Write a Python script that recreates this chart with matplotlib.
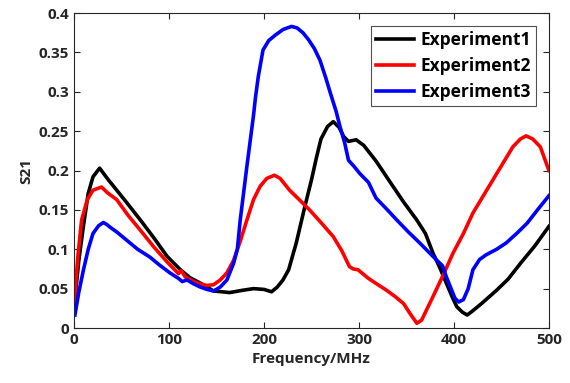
import matplotlib
matplotlib.use("Agg")
import matplotlib.pyplot as plt

plt.rcParams['font.family'] = ['Open Sans', 'DejaVu Sans']
plt.rcParams['font.weight'] = 'bold'

# Experiment1 (black)
x1 = [0, 5, 10, 15, 20, 27, 35, 45, 55, 70, 85, 98, 112, 122, 133, 147, 164, 178, 189,
      200, 208, 214, 220, 226, 234, 243, 250, 255, 260, 267, 273, 279, 284, 289, 297,
      305, 318, 333, 347, 361, 370, 378, 385, 392, 398, 403, 409, 414, 420, 430, 445,
      457, 470, 485, 500]
y1 = [0.025, 0.085, 0.13, 0.171, 0.192, 0.203, 0.19, 0.175, 0.16, 0.137, 0.113, 0.091,
      0.074, 0.064, 0.057, 0.047, 0.045, 0.048, 0.050, 0.049, 0.046, 0.052, 0.061, 0.074,
      0.108, 0.154, 0.188, 0.215, 0.24, 0.256, 0.262, 0.255, 0.243, 0.237, 0.239, 0.232,
      0.212, 0.185, 0.16, 0.137, 0.12, 0.095, 0.077, 0.057, 0.04, 0.027, 0.02, 0.0165,
      0.022, 0.032, 0.048, 0.062, 0.082, 0.104, 0.129]

# Experiment2 (red)
x2 = [0, 4, 8, 14, 20, 29, 35, 45, 57, 70, 84, 98, 110, 113, 117, 126, 133, 140, 147,
      154, 161, 168, 175, 182, 189, 196, 203, 211, 217, 227, 238, 248, 260, 273, 282,
      290, 294, 299, 310, 320, 329, 338, 347, 354, 361, 366, 372, 378, 389, 399, 410,
      420, 431, 441, 452, 462, 470, 476, 483, 491, 500]
y2 = [0.027, 0.09, 0.137, 0.163, 0.175, 0.179, 0.172, 0.163, 0.143, 0.124, 0.103, 0.084,
      0.069, 0.073, 0.065, 0.059, 0.056, 0.054, 0.055, 0.061, 0.07, 0.086, 0.11, 0.137,
      0.163, 0.18, 0.19, 0.194, 0.19, 0.175, 0.162, 0.15, 0.134, 0.116, 0.098, 0.078,
      0.075, 0.074, 0.063, 0.055, 0.048, 0.04, 0.031, 0.018, 0.006, 0.01, 0.025, 0.04,
      0.068, 0.095, 0.12, 0.146, 0.168, 0.188, 0.21, 0.23, 0.24, 0.244, 0.24, 0.23, 0.2]

# Experiment3 (blue)
x3 = [1, 5, 10, 15, 20, 26, 31, 35, 38, 45, 55, 67, 80, 90, 101, 110, 114, 119, 126,
      133, 140, 147, 154, 161, 168, 172, 175, 182, 189, 191, 194, 199, 205, 212, 220,
      229, 235, 241, 247, 253, 259, 265, 270, 276, 280, 285, 289, 295, 301, 310, 318,
      330, 340, 352, 364, 373, 382, 388, 392, 397, 401, 405, 410, 415, 420, 427, 434,
      445, 455, 466, 477, 488, 500]
y3 = [0.0165, 0.045, 0.074, 0.1, 0.12, 0.13, 0.134, 0.131, 0.128, 0.122, 0.112, 0.1,
      0.09, 0.08, 0.07, 0.063, 0.059, 0.061, 0.056, 0.052, 0.049, 0.047, 0.052, 0.061,
      0.082, 0.1, 0.137, 0.205, 0.27, 0.292, 0.319, 0.353, 0.365, 0.372, 0.379, 0.383,
      0.381, 0.375, 0.366, 0.355, 0.34, 0.318, 0.298, 0.275, 0.256, 0.235, 0.213, 0.205,
      0.196, 0.185, 0.165, 0.15, 0.137, 0.122, 0.108, 0.097, 0.086, 0.079, 0.065, 0.05,
      0.038, 0.033, 0.036, 0.05, 0.074, 0.087, 0.093, 0.1, 0.108, 0.12, 0.133, 0.15, 0.168]

labels = ['Experiment1', 'Experiment2', 'Experiment3']

fig = plt.figure(figsize=(5.7, 3.83), dpi=100)
ax = fig.add_axes([0.1298, 0.1436, 0.8332, 0.8224])

ax.plot(x1, y1, color='black', lw=2.6, label=labels[0])
ax.plot(x2, y2, color='red', lw=2.6, label=labels[1])
ax.plot(x3, y3, color='blue', lw=2.6, label=labels[2])

ax.set_xlim(0, 500)
ax.set_ylim(0, 0.4)
ax.set_xticks([0, 100, 200, 300, 400, 500])
ax.set_yticks([0, 0.05, 0.1, 0.15, 0.2, 0.25, 0.3, 0.35, 0.4])
ax.set_yticklabels(['0', '0.05', '0.1', '0.15', '0.2', '0.25', '0.3', '0.35', '0.4'])

ax.tick_params(direction='in', top=True, right=True, length=4, width=0.8,
               color='#262626', labelsize=11, labelcolor='#262626')
for lab in ax.get_xticklabels() + ax.get_yticklabels():
    lab.set_fontweight('bold')
for s in ax.spines.values():
    s.set_color('#262626')
    s.set_linewidth(0.8)

ax.set_xlabel('Frequency/MHz', fontsize=11, fontweight='bold', color='#262626')
ax.set_ylabel('S21', fontsize=11, fontweight='bold', color='#262626')

leg = ax.legend(loc='upper right', fontsize=12.5, frameon=True, fancybox=False,
                edgecolor='#262626', handlelength=2.2, borderaxespad=0.75,
                borderpad=0.3, labelspacing=0.45, handletextpad=0.35)
leg.get_frame().set_linewidth(0.8)
for t in leg.get_texts():
    t.set_fontweight('bold')
    t.set_color('black')

fig.savefig('out.png', dpi=100)
